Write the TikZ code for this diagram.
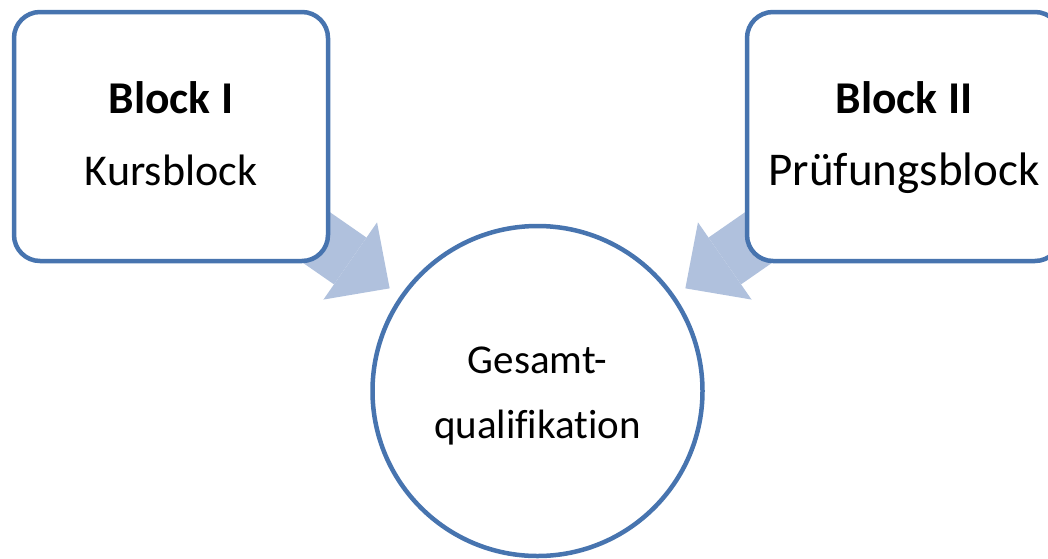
\documentclass[tikz,border=0pt]{standalone}
\usepackage{fontspec}
\setmainfont{Carlito}[Ligatures=NoCommon]
\usetikzlibrary{arrows.meta, calc, backgrounds}
\definecolor{blockBlue}{RGB}{71,116,175}
\definecolor{arrowBlue}{RGB}{176,193,221}
\tikzset{
    blockBox/.style={rectangle, draw=blockBlue, line width=4.5pt, rounded corners=26pt, fill=white, minimum width=314pt, minimum height=249pt, align=center, font=\fontsize{44}{72}\selectfont, text height=97pt, text depth=0pt},
    goalCircle/.style={circle, draw=blockBlue, line width=4.5pt, fill=white, minimum size=330pt, align=center, font=\fontsize{41}{65}\selectfont, text height=94pt, text depth=0pt},
    bigArrow/.style={draw=arrowBlue, line width=57pt, -{Triangle[width=94pt 0 0, length=48pt 0 0, line width=0pt 0 0]}},
}
\newcommand{\blockTitle}[1]{{\fontsize{45.5}{72}\selectfont\bfseries #1}}
\newcommand{\drawBigArrow}[2]{
    % shaft starts under the block, tip stops short of the circle
    \draw[bigArrow] (#1.center) -- ($(#2.center)!180pt!(#1.center)$);
}

\begin{document}
\begin{tikzpicture}[x=1pt, y=-1pt]
    \useasboundingbox (0, 0) rectangle (1048, 558);

    % blocks
    \node[blockBox] (kurs) at (171, 136.5) {\blockTitle{Block I}\\Kursblock};
    \node[blockBox] (pruef) at (904, 136.5) {\blockTitle{Block II}\\{\fontsize{47}{72}\selectfont Prüfungsblock}};

    % goal
    \node[goalCircle] (gesamt) at (537.5, 391) {Gesamt-\\qualifikation};

    % arrows behind the boxes
    \begin{pgfonlayer}{background}
        \drawBigArrow{kurs}{gesamt}
        \drawBigArrow{pruef}{gesamt}
    \end{pgfonlayer}

\end{tikzpicture}
\end{document}
